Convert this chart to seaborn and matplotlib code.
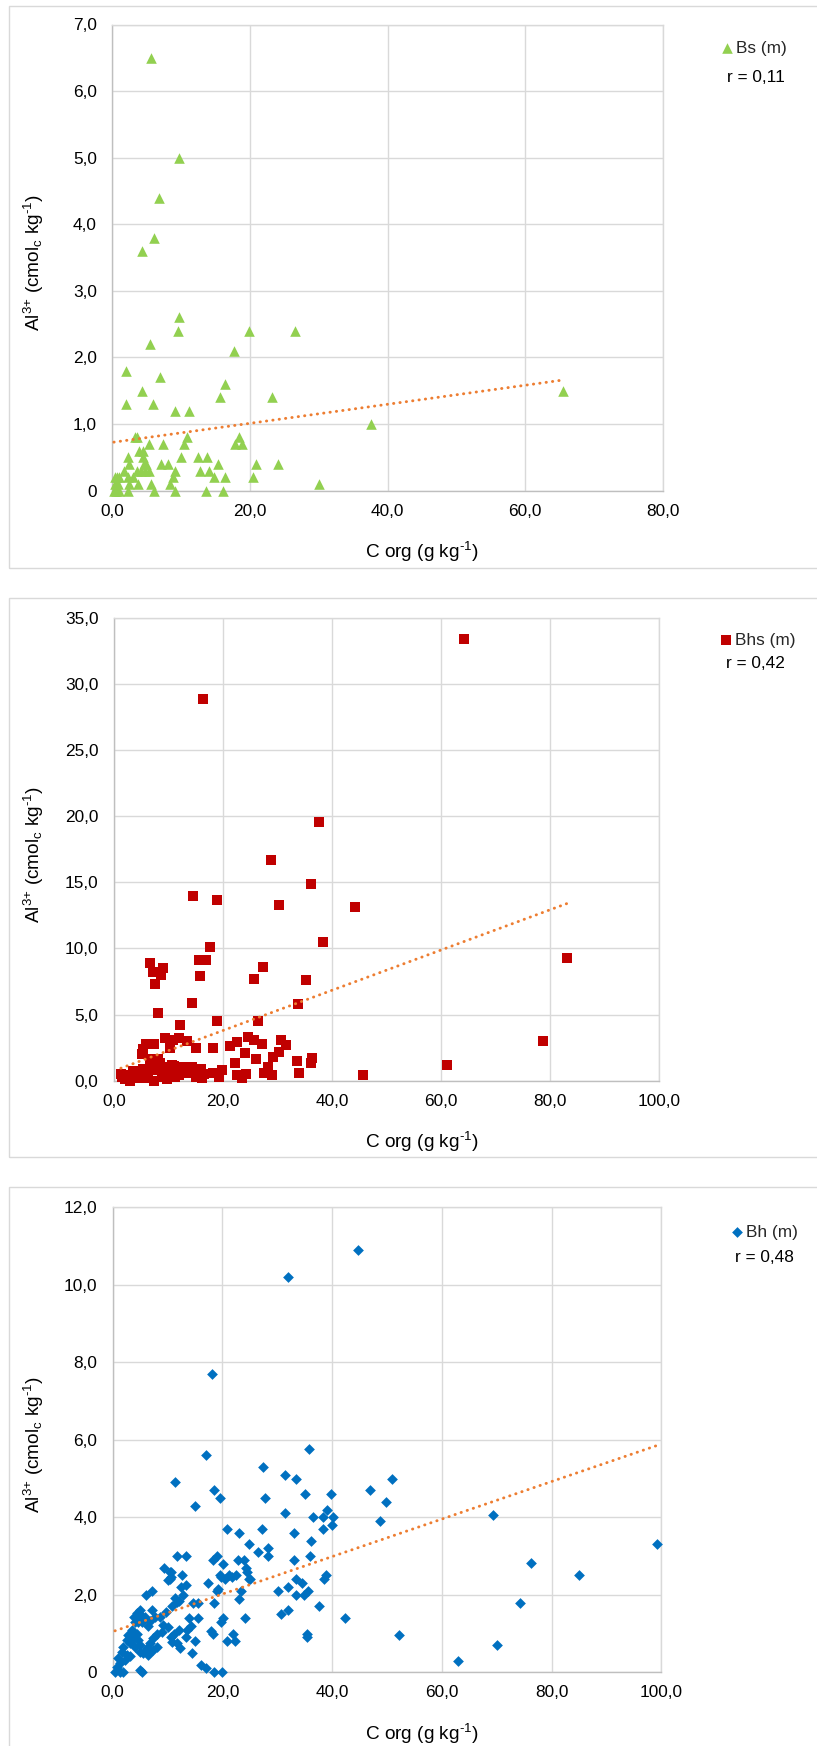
import matplotlib
matplotlib.use("Agg")
import matplotlib.pyplot as plt
from matplotlib.patches import Rectangle
from matplotlib.ticker import FuncFormatter, MultipleLocator
import numpy as np
import pandas as pd
import seaborn as sns

# ---- data --------------------------------------------------------------
# Bs (m)
bs_corg = [5.6, 9.7, 6.7, 6.1, 4.3, 9.6, 9.5, 19.9, 26.5, 5.4,
           17.6, 1.9, 6.9, 16.3, 4.3, 65.5, 15.7, 23.2, 1.9, 5.9,
           9.1, 11.1, 37.6, 3.3, 3.6, 10.9, 18.4, 5.3, 7.4, 10.4,
           17.8, 18.9, 3.9, 4.5, 2.2, 4.5, 10.0, 12.5, 13.7, 2.4,
           4.6, 7.0, 8.1, 15.3, 20.9, 24.1, 1.7, 3.5, 5.3, 9.1,
           12.7, 14.0, 0.4, 1.0, 2.2, 3.0, 8.8, 14.7, 16.3, 20.5,
           0.4, 2.4, 3.7, 5.6, 8.4, 30.1, 0.5, 2.3, 6.0, 9.1,
           13.6, 16.1, 0.8, 1.0, 4.8, 4.2, 0.2, 0.7, 4.7]
bs_al = [6.5, 5.0, 4.4, 3.8, 3.6, 2.6, 2.4, 2.4, 2.4, 2.2,
         2.1, 1.8, 1.7, 1.6, 1.5, 1.5, 1.4, 1.4, 1.3, 1.3,
         1.2, 1.2, 1.0, 0.8, 0.8, 0.8, 0.8, 0.7, 0.7, 0.7,
         0.7, 0.7, 0.6, 0.6, 0.5, 0.5, 0.5, 0.5, 0.5, 0.4,
         0.4, 0.4, 0.4, 0.4, 0.4, 0.4, 0.3, 0.3, 0.3, 0.3,
         0.3, 0.3, 0.2, 0.2, 0.2, 0.2, 0.2, 0.2, 0.2, 0.2,
         0.1, 0.1, 0.1, 0.1, 0.1, 0.1, 0.0, 0.0, 0.0, 0.0,
         0.0, 0.0, 0.1, 0.0, 0.4, 0.3, 0.0, 0.2, 0.3]

# Bhs (m)
bhs_corg = [64.2, 16.3, 37.5, 28.7, 36.1, 14.5, 18.9, 30.3, 44.1, 38.3,
            17.5, 83.0, 15.5, 16.9, 6.6, 27.3, 9.0, 7.1, 8.6, 15.8,
            25.7, 35.1, 7.4, 14.3, 33.7, 8.1, 18.9, 26.4, 12.0, 78.7,
            61.1, 45.7,
            5.8, 7.2, 9.3, 11.8, 13.3, 10.7, 10.2, 14.9, 18.2, 5.2,
            5.0, 21.2, 22.5, 24.5, 25.7, 27.1, 30.5, 31.5, 30.2, 29.2,
            24.0, 26.0, 22.1, 28.2, 33.5, 36.3, 36.0, 33.9, 28.9, 27.5,
            24.1, 22.5, 23.4, 19.8, 18.2, 19.2, 15.9, 16.0, 14.2, 13.0,
            12.1, 13.9, 11.0, 11.1, 9.6, 8.4, 7.2, 7.8, 7.2, 6.2,
            5.3, 4.6, 3.5, 2.6, 2.9, 1.5, 1.2, 2.0, 4.1, 4.7,
            5.9, 8.7, 9.0, 10.0, 11.8, 12.9, 15.0, 14.9, 6.5, 8.0,
            9.4, 10.5, 3.8, 6.8, 8.9, 16.5]
bhs_al = [33.4, 28.9, 19.6, 16.7, 14.9, 14.0, 13.7, 13.3, 13.1, 10.5,
          10.1, 9.3, 9.1, 9.1, 8.9, 8.6, 8.5, 8.2, 8.0, 7.9,
          7.7, 7.6, 7.3, 5.9, 5.8, 5.1, 4.5, 4.5, 4.2, 3.0,
          1.2, 0.4,
          2.8, 2.8, 3.2, 3.2, 3.0, 3.1, 2.5, 2.5, 2.5, 2.4,
          2.0, 2.6, 2.9, 3.3, 3.1, 2.8, 3.1, 2.7, 2.2, 1.8,
          2.1, 1.6, 1.3, 1.0, 1.5, 1.7, 1.3, 0.6, 0.4, 0.6,
          0.5, 0.4, 0.2, 0.8, 0.6, 0.3, 0.9, 0.2, 1.0, 1.0,
          1.0, 0.6, 1.1, 0.3, 0.1, 1.3, 1.4, 0.8, 0.0, 0.5,
          0.9, 0.7, 0.7, 0.4, 0.0, 0.3, 0.5, 0.1, 0.2, 0.2,
          0.2, 0.4, 0.3, 0.7, 0.4, 0.6, 0.7, 0.3, 1.6, 1.6,
          1.0, 1.2, 0.3, 0.9, 0.9, 0.5]

# Bh (m)
bh_corg = [44.7, 31.9, 18.1, 35.8, 17.0, 27.4, 31.5, 33.4, 51.0, 11.4,
           18.4, 47.0, 35.0, 39.8, 27.7, 19.5, 49.8, 15.0, 39.1, 31.5,
           69.4, 36.5, 38.4, 40.1, 48.7, 40.0, 38.3, 20.8, 27.2, 23.1,
           33.1, 36.1, 24.9, 99.2, 28.4, 26.4, 28.3, 11.7, 13.4, 35.9,
           19.1, 18.3, 33.0, 22.8, 23.9, 76.3, 20.2, 9.3, 24.3, 10.6,
           12.7, 19.5, 21.2, 22.4, 38.9, 85.1, 10.4, 20.4, 24.9, 33.4,
           38.6, 34.5, 17.3, 12.4, 32.0, 19.1, 7.2, 30.1, 35.6, 6.0,
           33.4, 34.9, 12.9, 23.4, 23.0, 14.6, 15.6, 18.5, 74.2, 37.7,
           32.0, 30.6, 14.0, 15.6, 24.2, 42.3, 20.2, 19.8, 35.5, 17.9,
           18.3, 22.0, 52.2, 35.5, 13.3, 20.9, 22.3, 15.0, 70.0, 14.5,
           62.9, 16.1, 17.1, 18.4, 20.0,
           11.4, 11.7, 10.8, 9.8, 8.6, 7.7, 6.8, 5.0, 5.9, 4.4,
           4.1, 5.3, 6.5, 7.1, 12.0, 11.2, 10.1, 9.2, 8.9, 8.0,
           10.7, 10.9, 11.7, 12.3, 7.4, 6.8, 6.2, 6.8, 7.4, 8.0,
           6.5, 5.6, 5.0, 3.8, 4.4, 5.0, 4.7, 3.5, 2.85, 2.55,
           3.15, 3.76, 4.4, 4.67, 4.97, 4.06, 1.94, 1.64, 2.55, 3.15,
           2.25, 1.03, 1.33, 0.72, 0.42, 1.33, 1.94, 4.97, 5.28, 13.5,
           14.2, 19.7, 21.8, 25.0, 24.4, 19.2, 10.5, 10.6, 10.1, 13.4,
           12.0]
bh_al = [10.9, 10.2, 7.7, 5.76, 5.6, 5.3, 5.1, 5.0, 5.0, 4.9,
         4.7, 4.7, 4.6, 4.6, 4.5, 4.5, 4.4, 4.3, 4.2, 4.1,
         4.06, 4.0, 4.0, 4.0, 3.9, 3.8, 3.7, 3.7, 3.7, 3.6,
         3.6, 3.4, 3.3, 3.3, 3.2, 3.1, 3.0, 3.0, 3.0, 3.0,
         3.0, 2.9, 2.9, 2.9, 2.9, 2.83, 2.8, 2.7, 2.7, 2.6,
         2.5, 2.5, 2.5, 2.5, 2.5, 2.5, 2.4, 2.4, 2.4, 2.4,
         2.4, 2.3, 2.3, 2.2, 2.2, 2.1, 2.1, 2.1, 2.1, 2.0,
         2.0, 2.0, 2.0, 2.1, 1.9, 1.8, 1.8, 1.8, 1.8, 1.7,
         1.6, 1.5, 1.4, 1.4, 1.4, 1.4, 1.4, 1.3, 1.0, 1.07,
         0.99, 1.0, 0.96, 0.9, 0.9, 0.8, 0.8, 0.8, 0.7, 0.5,
         0.3, 0.2, 0.1, 0.0, 0.0,
         1.91, 1.82, 1.7, 1.56, 1.43, 1.43, 1.33, 1.5, 1.43, 1.4,
         1.3, 1.3, 1.2, 1.62, 1.09, 1.0, 1.17, 1.22, 1.05, 1.0,
         0.92, 0.79, 0.75, 0.62, 0.88, 0.75, 0.62, 0.53, 0.57, 0.66,
         0.45, 0.49, 0.53, 1.44, 1.52, 1.61, 1.31, 1.09, 0.96, 0.83,
         0.75, 0.87, 1.0, 0.83, 0.7, 0.66, 0.66, 0.53, 0.45, 0.41,
         0.32, 0.36, 0.23, 0.14, 0.02, 0.02, 0.0, 0.07, 0.02, 1.1,
         1.2, 2.45, 2.45, 2.4, 2.6, 2.14, 2.6, 2.45, 2.38, 2.25,
         1.85]

# linear trend lines (intercept, slope) and r values as shown
trend_coefs = [(0.725, 0.01428), (0.755, 0.1522), (1.05, 0.0484)]
r_labels = ["r = 0,11", "r = 0,42", "r = 0,48"]
series_names = ["Bs (m)", "Bhs (m)", "Bh (m)"]
x_max = [80, 100, 100]
y_max = [7, 35, 12]
y_step = [1, 5, 2]

# ---- layout (pixels of the 817 x 1746 canvas) ---------------------------
W, H = 817, 1746
axes_px = [(112.5, 24.5, 662.5, 490.6),
           (114.3, 618.0, 659.3, 1080.6),
           (112.7, 1207.3, 661.2, 1672.3)]
frames_px = [(8.5, 5.5, 567.5), (8.5, 597.5, 1156.5), (8.5, 1187.5, 1800)]
legend_px = [(727, 48, 727, 77), (726, 640, 726, 664), (737, 1232, 735, 1257)]
markers = ["^", "s", "D"]
sizes = [58, 54, 30]
colors = ["#92D050", "#C00000", "#0070C0"]
zero_short = [True, False, True]

sns.set_theme(style="white")
plt.rcParams["font.family"] = ["Liberation Sans", "DejaVu Sans"]
plt.rcParams["mathtext.fontset"] = "custom"
plt.rcParams["mathtext.rm"] = "Liberation Sans"
plt.rcParams["mathtext.it"] = "Liberation Sans:italic"
plt.rcParams["mathtext.bf"] = "Liberation Sans:bold"

TICK_FS = 12.4
TITLE_FS = 13.7
GRID = "#D9D9D9"


def fx(px):
    return px / W


def fy(py):
    return 1 - py / H


def comma_fmt(short_zero):
    def f(v, _):
        if abs(v) < 1e-9 and short_zero:
            return "0"
        return f"{v:.1f}".replace(".", ",")
    return f


fig = plt.figure(figsize=(W / 100, H / 100), dpi=100)
fig.patch.set_facecolor("white")

datasets = [(bs_corg, bs_al), (bhs_corg, bhs_al), (bh_corg, bh_al)]

for i, (xs, ys) in enumerate(datasets):
    # chart frame
    fl, ft, fb = frames_px[i]
    fig.patches.append(Rectangle((fx(fl), fy(fb)), fx(W + 20 - fl), (fb - ft) / H,
                                 transform=fig.transFigure, fill=False,
                                 edgecolor=GRID, linewidth=1.0))

    l, t, r, b = axes_px[i]
    ax = fig.add_axes([fx(l), fy(b), (r - l) / W, (b - t) / H])
    df = pd.DataFrame({"corg": xs, "al": ys})

    sns.scatterplot(data=df, x="corg", y="al", marker=markers[i], s=sizes[i],
                    color=colors[i], linewidth=0, label=series_names[i],
                    ax=ax, zorder=3, clip_on=False)

    b0, b1 = trend_coefs[i]
    tx = np.array([df["corg"].min(), df["corg"].max()])
    ax.plot(tx, b0 + b1 * tx, color="#ED7D31", linewidth=2.1,
            linestyle=(0, (0.1, 2.1)), dash_capstyle="round", zorder=4)

    ax.set_xlim(0, x_max[i])
    ax.set_ylim(0, y_max[i])
    ax.xaxis.set_major_locator(MultipleLocator(20))
    ax.yaxis.set_major_locator(MultipleLocator(y_step[i]))
    ax.xaxis.set_major_formatter(FuncFormatter(comma_fmt(False)))
    ax.yaxis.set_major_formatter(FuncFormatter(comma_fmt(zero_short[i])))
    ax.tick_params(axis="both", length=0, labelsize=TICK_FS, colors="black")
    ax.tick_params(axis="y", pad=11.3)
    ax.tick_params(axis="x", pad=9.5)
    ax.grid(True, color=GRID, linewidth=1.0, zorder=0)
    ax.set_axisbelow(True)
    for side in ["top", "right"]:
        ax.spines[side].set_color(GRID)
        ax.spines[side].set_linewidth(1.0)
    for side in ["left", "bottom"]:
        ax.spines[side].set_color("#BFBFBF")
        ax.spines[side].set_linewidth(1.0)
    ax.set_xlabel("")
    ax.set_ylabel("")

    # axis titles
    fig.text(fx(422), fy(b + 61.5), r"C org (g kg$^{\text{-1}}$)",
             ha="center", va="center", fontsize=TITLE_FS, color="black")
    fig.text(fx(34), fy((t + b) / 2 + 5),
             r"Al$^{\text{3+}}$ (cmol$_{\text{c}}$ kg$^{\text{-1}}$)",
             ha="center", va="center", rotation=90, fontsize=TITLE_FS,
             color="black")

    # legend and r value
    mx, my, rx, ry = legend_px[i]
    hl = 0.8
    half = hl * TICK_FS * 100 / 72 / 2
    ax.legend(loc="center left", bbox_to_anchor=(fx(mx - half), fy(my)),
              bbox_transform=fig.transFigure, frameon=False, fontsize=TICK_FS,
              handlelength=hl, handletextpad=0.12, borderpad=0,
              borderaxespad=0, scatterpoints=1)
    fig.text(fx(rx), fy(ry), r_labels[i], ha="left", va="center",
             fontsize=TICK_FS, color="black")

fig.savefig("out.png", dpi=100, facecolor="white")
